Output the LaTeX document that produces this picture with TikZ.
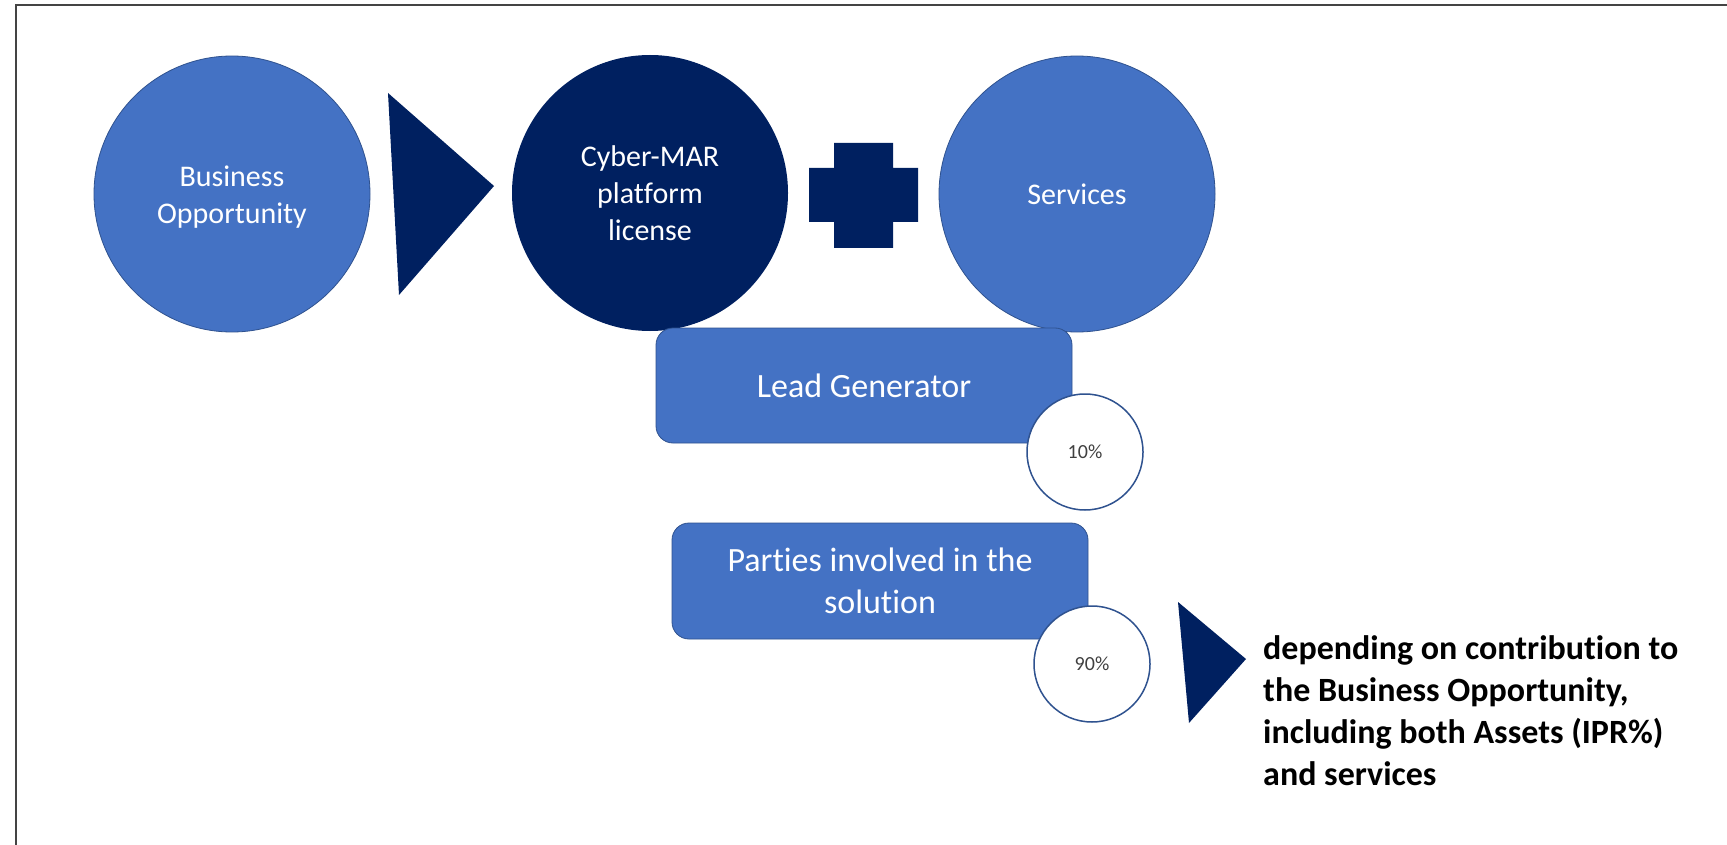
\documentclass[tikz,border=0pt]{standalone}
\usepackage{fontspec}
\setmainfont{Carlito}[Ligatures=NoCommon]
\definecolor{midblue}{HTML}{4472C4}
\definecolor{navy}{HTML}{002060}
\definecolor{edgeblue}{HTML}{2F528F}
\definecolor{pcttext}{HTML}{404040}
\definecolor{framegray}{HTML}{444444}
\begin{document}
\begin{tikzpicture}[x=1pt,y=-1pt,
  bigcirc/.style={circle, minimum size=276pt, inner sep=0pt, align=center, text=white, font=\fontsize{30}{37}\selectfont},
  lightc/.style={bigcirc, fill=midblue, draw=edgeblue, line width=0.8pt},
  darkc/.style={bigcirc, fill=navy},
  circtext/.style={inner sep=0pt, align=center, text=white, font=\fontsize{30}{37}\selectfont},
  boxnode/.style={rectangle, rounded corners=17pt, fill=midblue, draw=edgeblue, line width=0.8pt, text=white, align=center, font=\fontsize{34}{42}\selectfont, inner sep=0pt, minimum width=416pt, minimum height=115pt},
  pct/.style={circle, minimum size=116pt, inner sep=0pt, fill=white, draw=edgeblue, line width=1.5pt, text=pcttext, font=\fontsize{20}{24}\selectfont},
  navyshape/.style={fill=navy},
  note/.style={anchor=north west, inner sep=0pt, align=left, font=\fontsize{34}{42}\selectfont\bfseries, text=black}
]
\useasboundingbox (0,0) rectangle (1727,845);
\fill[white] (0,0) rectangle (1727,845);
\draw[line width=1.5pt, framegray] (1727,5) -- (16,5) -- (16,845);

% top row
\node[lightc] (bo) at (232,194) {};
\node[circtext] (botext) at (232,197.5) {Business\\Opportunity};
\fill[navyshape] (388,93) -- (494,186) -- (399,295) -- cycle;
\node[darkc] (cm) at (650,193) {Cyber-MAR\\platform\\license};
\fill[navyshape] (834,143) -- (893,143) -- (893,168) -- (918,168) -- (918,222) -- (893,222) -- (893,248) -- (834,248) -- (834,222) -- (809,222) -- (809,168) -- (834,168) -- cycle;
\node[lightc] (sv) at (1077,194) {Services};

% boxes
\node[boxnode] (lg) at (864,385.5) {Lead Generator};
\node[pct] (p10) at (1085,452) {10\%};
\node[boxnode, minimum height=116pt] (pi) at (880,581) {Parties involved in the\\solution};
\node[pct] (p90) at (1092,664) {90\%};

% note
\fill[navyshape] (1178,602) -- (1246,659) -- (1189,723) -- cycle;
\node[note] (nt) at (1263,635) {depending on contribution to\\the Business Opportunity,\\including both Assets (IPR\%)\\and services};
\end{tikzpicture}
\end{document}
